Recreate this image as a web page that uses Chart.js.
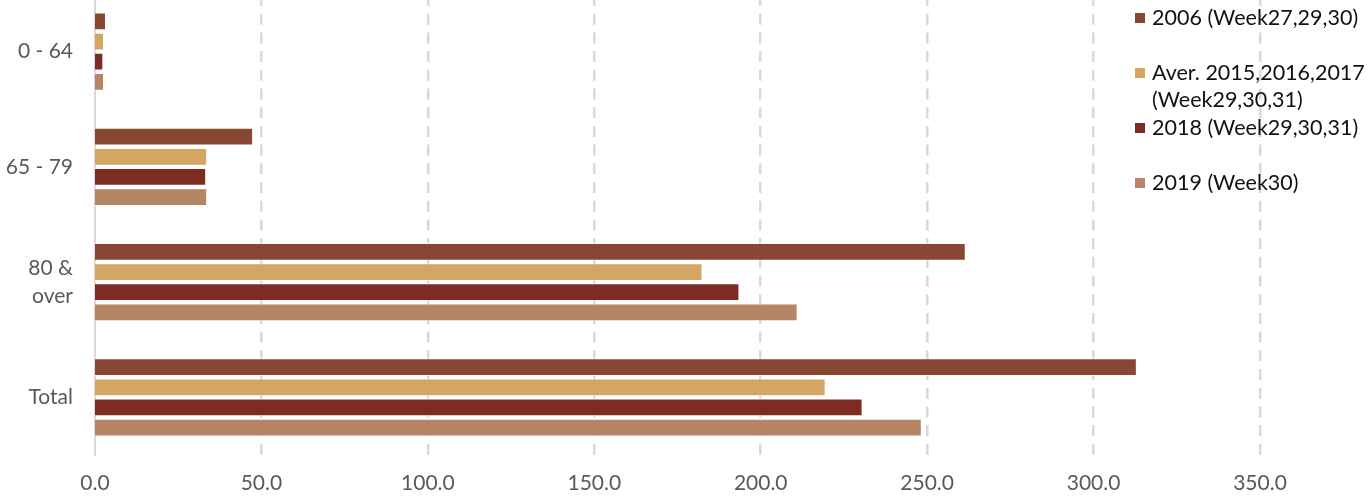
<!DOCTYPE html>
<html>
<head>
<meta charset="utf-8">
<script src="https://cdn.jsdelivr.net/npm/chart.js@4.4.1/dist/chart.umd.min.js"></script>
<style>
  html, body { margin: 0; padding: 0; background: #fff; overflow: hidden; }
  #wrap { position: relative; width: 1370px; height: 497px; }
  #box { position: absolute; left: 0; top: -6px; width: 1370px; height: 503px; }
  #legend { position: absolute; left: 1135px; top: 0; font-family: Lato, sans-serif; font-size: 21.5px; color: #111; }
  .item { position: absolute; left: 0; width: 240px; display: flex; align-items: flex-start; line-height: 27px; }
  .sw { width: 10px; height: 10px; margin-top: 9px; margin-right: 7px; flex: none; }
</style>
</head>
<body>
<div id="wrap">
  <div id="box"><canvas id="chart"></canvas></div>
  <div id="legend"></div>
</div>
<script>
var categories = [["0 - 64"], ["65 - 79"], ["80 &", "over"], ["Total"]];
var seriesNames = ["2006 (Week27,29,30)", "Aver. 2015,2016,2017 (Week29,30,31)", "2018 (Week29,30,31)", "2019 (Week30)"];
var seriesColors = ["#884733", "#D5A564", "#7C2C22", "#B68564"];
var v2006 = [3.3, 47.5, 261.6, 313.0];
var vAver = [2.7, 33.7, 182.5, 219.5];
var v2018 = [2.5, 33.4, 193.6, 230.6];
var v2019 = [2.7, 33.7, 211.1, 248.4];
var xTicks = [0, 50, 100, 150, 200, 250, 300, 350];

var values = [v2006, vAver, v2018, v2019];
var datasets = values.map(function(d, i) {
    return {
        label: seriesNames[i],
        data: d,
        backgroundColor: seriesColors[i],
        borderColor: "rgba(255,255,255,0.7)",
        borderWidth: 1,
        categoryPercentage: 0.7,
        barPercentage: 0.88
    };
});

// legend sits over the plot, on the right
var legend = document.getElementById("legend");
seriesNames.forEach(function(name, i) {
    var el = document.createElement("div");
    el.className = "item";
    el.style.top = (4 + 55 * i) + "px";
    el.innerHTML = '<span class="sw" style="background:' + seriesColors[i] + '"></span><span>' + name + '</span>';
    legend.appendChild(el);
});

var tickFont = { family: "Lato, sans-serif", size: 21, lineHeight: 1.3 };

new Chart(document.getElementById("chart").getContext("2d"), {
    type: "bar",
    data: { labels: categories, datasets: datasets },
    options: {
        indexAxis: "y",
        responsive: true,
        maintainAspectRatio: false,
        animation: false,
        layout: { padding: { left: 0, right: 110, top: 0, bottom: 0 } },
        plugins: { legend: { display: false }, tooltip: { enabled: false } },
        scales: {
            x: {
                min: 0,
                max: 350,
                afterBuildTicks: function(scale) {
                    scale.ticks = xTicks.map(function(v) { return { value: v }; });
                },
                afterFit: function(scale) {
                    scale.height = 42;
                    scale.paddingTop = 0;
                    scale.paddingBottom = 0;
                },
                ticks: {
                    color: "#595959",
                    font: tickFont,
                    padding: 15,
                    callback: function(v) { return Number(v).toFixed(1); }
                },
                grid: {
                    color: "#d9d9d9",
                    lineWidth: function(ctx) { return ctx.index === 0 ? 0 : 2.5; },
                    drawTicks: false
                },
                border: { display: false, dash: [11, 7.7], dashOffset: -1 }
            },
            y: {
                afterFit: function(scale) {
                    scale.width = 95;
                    scale.paddingTop = 0;
                    scale.paddingBottom = 0;
                },
                ticks: {
                    color: "#595959",
                    font: tickFont,
                    padding: 22
                },
                grid: { display: false, drawTicks: false },
                border: { display: true, color: "#d9d9d9", width: 2 }
            }
        }
    }
});
</script>
</body>
</html>
